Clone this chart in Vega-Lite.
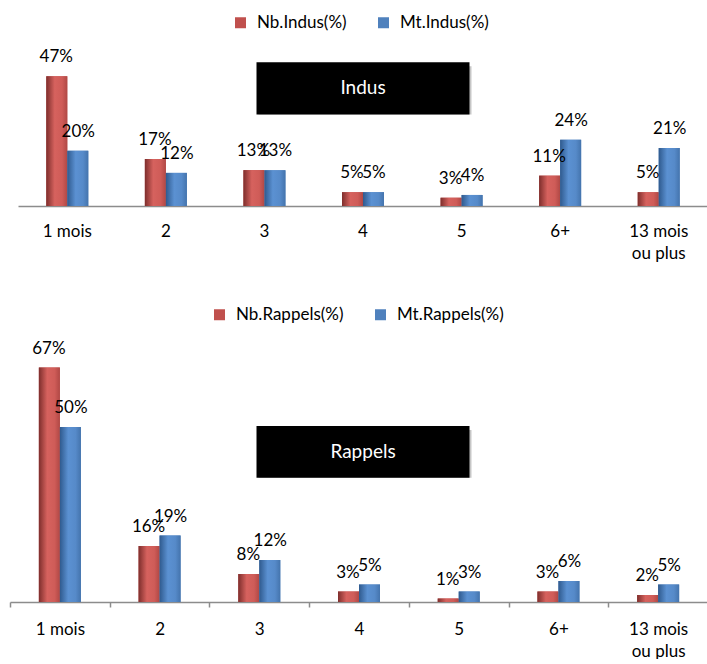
{
  "$schema": "https://vega.github.io/schema/vega-lite/v6.json",
  "padding": {"left": 9, "top": 14, "right": 0, "bottom": 0},
  "background": "white",
  "config": {
    "view": {"stroke": null},
    "font": "Lato",
    "axis": {"labelFont": "Lato"},
    "legend": {"labelFont": "Lato"},
    "text": {"font": "Lato"}
  },
  "resolve": {"scale": {"color": "independent"}, "legend": {"color": "independent"}},
  "spacing": 45,
  "datasets": {
    "indus": [
      {"mois": "1 mois", "serie": "Nb.Indus(%)", "v": 0.47},
      {"mois": "1 mois", "serie": "Mt.Indus(%)", "v": 0.20},
      {"mois": "2", "serie": "Nb.Indus(%)", "v": 0.17},
      {"mois": "2", "serie": "Mt.Indus(%)", "v": 0.12},
      {"mois": "3", "serie": "Nb.Indus(%)", "v": 0.13},
      {"mois": "3", "serie": "Mt.Indus(%)", "v": 0.13},
      {"mois": "4", "serie": "Nb.Indus(%)", "v": 0.05},
      {"mois": "4", "serie": "Mt.Indus(%)", "v": 0.05},
      {"mois": "5", "serie": "Nb.Indus(%)", "v": 0.03},
      {"mois": "5", "serie": "Mt.Indus(%)", "v": 0.04},
      {"mois": "6+", "serie": "Nb.Indus(%)", "v": 0.11},
      {"mois": "6+", "serie": "Mt.Indus(%)", "v": 0.24},
      {"mois": "13 mois ou plus", "serie": "Nb.Indus(%)", "v": 0.05},
      {"mois": "13 mois ou plus", "serie": "Mt.Indus(%)", "v": 0.21}
    ],
    "rappels": [
      {"mois": "1 mois", "serie": "Nb.Rappels(%)", "v": 0.67},
      {"mois": "1 mois", "serie": "Mt.Rappels(%)", "v": 0.50},
      {"mois": "2", "serie": "Nb.Rappels(%)", "v": 0.16},
      {"mois": "2", "serie": "Mt.Rappels(%)", "v": 0.19},
      {"mois": "3", "serie": "Nb.Rappels(%)", "v": 0.08},
      {"mois": "3", "serie": "Mt.Rappels(%)", "v": 0.12},
      {"mois": "4", "serie": "Nb.Rappels(%)", "v": 0.03},
      {"mois": "4", "serie": "Mt.Rappels(%)", "v": 0.05},
      {"mois": "5", "serie": "Nb.Rappels(%)", "v": 0.01},
      {"mois": "5", "serie": "Mt.Rappels(%)", "v": 0.03},
      {"mois": "6+", "serie": "Nb.Rappels(%)", "v": 0.03},
      {"mois": "6+", "serie": "Mt.Rappels(%)", "v": 0.06},
      {"mois": "13 mois ou plus", "serie": "Nb.Rappels(%)", "v": 0.02},
      {"mois": "13 mois ou plus", "serie": "Mt.Rappels(%)", "v": 0.05}
    ],
    "titre_indus": [{"titre": "Indus", "mois": "4", "haut": 0.521, "bas": 0.332, "milieu": 0.4265}],
    "titre_rappels": [{"titre": "Rappels", "mois": "4", "haut": 0.503, "bas": 0.355, "milieu": 0.429}]
  },
  "vconcat": [
    {
      "width": 698,
      "height": 149,
      "layer": [
        {
          "data": {"name": "indus"},
          "transform": [{"filter": "datum.serie == 'Nb.Indus(%)'"}],
          "mark": {"type": "bar", "width": 21, "xOffset": -10.5},
          "encoding": {
            "x": {
              "field": "mois", "type": "nominal",
              "scale": {"domain": ["1 mois", "2", "3", "4", "5", "6+", "13 mois ou plus"], "range": [8, 698], "paddingInner": 0, "paddingOuter": 0},
              "axis": {
                "title": null, "labelAngle": 0, "labelFontSize": 17, "labelColor": "#000",
                "domainColor": "#8c8c8c", "domainWidth": 1.5, "ticks": false, "labelPadding": 17,
                "labelBaseline": "top", "labelLineHeight": 22,
                "labelExpr": "datum.value == '13 mois ou plus' ? ['13 mois', 'ou plus'] : datum.value"
              }
            },
            "y": {"field": "v", "type": "quantitative", "scale": {"domain": [0, 0.54], "nice": false, "zero": true}, "axis": null},
            "color": {
              "field": "serie", "type": "nominal",
              "scale": {"domain": ["Nb.Indus(%)", "Mt.Indus(%)"], "range": ["#C0504D", "#4F81BD"]},
              "legend": {
                "title": null, "orient": "none", "legendX": 222, "legendY": -43, "direction": "horizontal",
                "symbolType": "square", "symbolSize": 121, "symbolStrokeWidth": 0, "labelFontSize": 17,
                "labelOffset": 8, "columnPadding": 28, "labelColor": "#000"
              }
            }
          }
        },
        {
          "data": {"name": "indus"},
          "transform": [{"filter": "datum.serie == 'Mt.Indus(%)'"}],
          "mark": {"type": "bar", "width": 21, "xOffset": 10.5},
          "encoding": {
            "x": {"field": "mois", "type": "nominal"},
            "y": {"field": "v", "type": "quantitative"},
            "color": {"field": "serie", "type": "nominal"}
          }
        },
        {
          "data": {"name": "indus"},
          "transform": [{"filter": "datum.serie == 'Nb.Indus(%)'"}],
          "mark": {"type": "bar", "width": 21, "xOffset": -10.5, "fill": {"gradient": "linear", "x1": 0, "x2": 1, "y1": 0, "y2": 0, "stops": [{"offset": 0, "color": "#7e2e2c"}, {"offset": 0.4, "color": "#d6625e"}, {"offset": 0.75, "color": "#cf5c58"}, {"offset": 1, "color": "#b04845"}]}},
          "encoding": {
            "x": {"field": "mois", "type": "nominal"},
            "y": {"field": "v", "type": "quantitative"}
          }
        },
        {
          "data": {"name": "indus"},
          "transform": [{"filter": "datum.serie == 'Mt.Indus(%)'"}],
          "mark": {"type": "bar", "width": 21, "xOffset": 10.5, "fill": {"gradient": "linear", "x1": 0, "x2": 1, "y1": 0, "y2": 0, "stops": [{"offset": 0, "color": "#2f5a8e"}, {"offset": 0.4, "color": "#5b91d2"}, {"offset": 0.75, "color": "#568ac9"}, {"offset": 1, "color": "#4474ad"}]}},
          "encoding": {
            "x": {"field": "mois", "type": "nominal"},
            "y": {"field": "v", "type": "quantitative"}
          }
        },
        {
          "data": {"name": "indus"},
          "transform": [{"filter": "datum.serie == 'Nb.Indus(%)'"}],
          "mark": {"type": "text", "fontSize": 17, "baseline": "alphabetic", "align": "center", "dy": -14, "xOffset": -11, "color": "#000"},
          "encoding": {
            "x": {"field": "mois", "type": "nominal"},
            "y": {"field": "v", "type": "quantitative"},
            "text": {"field": "v", "type": "quantitative", "format": ".0%"}
          }
        },
        {
          "data": {"name": "indus"},
          "transform": [{"filter": "datum.serie == 'Mt.Indus(%)'"}],
          "mark": {"type": "text", "fontSize": 17, "baseline": "alphabetic", "align": "center", "dy": -14, "xOffset": 11, "color": "#000"},
          "encoding": {
            "x": {"field": "mois", "type": "nominal"},
            "y": {"field": "v", "type": "quantitative"},
            "text": {"field": "v", "type": "quantitative", "format": ".0%"}
          }
        },
        {
          "data": {"name": "titre_indus"},
          "mark": {"type": "bar", "width": 213, "color": "#808080", "opacity": 0.45, "xOffset": 2, "yOffset": 4},
          "encoding": {
            "x": {"field": "mois", "type": "nominal"},
            "y": {"field": "haut", "type": "quantitative"},
            "y2": {"field": "bas"}
          }
        },
        {
          "data": {"name": "titre_indus"},
          "mark": {"type": "bar", "width": 213, "color": "#000000"},
          "encoding": {
            "x": {"field": "mois", "type": "nominal"},
            "y": {"field": "haut", "type": "quantitative"},
            "y2": {"field": "bas"}
          }
        },
        {
          "data": {"name": "titre_indus"},
          "mark": {"type": "text", "color": "white", "fontSize": 19, "baseline": "middle", "align": "center"},
          "encoding": {
            "x": {"field": "mois", "type": "nominal"},
            "y": {"field": "milieu", "type": "quantitative"},
            "text": {"field": "titre"}
          }
        }
      ]
    },
    {
      "width": 698,
      "height": 252,
      "layer": [
        {
          "data": {"name": "rappels"},
          "transform": [{"filter": "datum.serie == 'Nb.Rappels(%)'"}],
          "mark": {"type": "bar", "width": 21, "xOffset": -10.5},
          "encoding": {
            "x": {
              "field": "mois", "type": "nominal",
              "scale": {"domain": ["1 mois", "2", "3", "4", "5", "6+", "13 mois ou plus"], "paddingInner": 0, "paddingOuter": 0},
              "axis": {
                "title": null, "labelAngle": 0, "labelFontSize": 17, "labelColor": "#000",
                "domainColor": "#8c8c8c", "domainWidth": 1.5, "ticks": true, "tickBand": "extent",
                "tickColor": "#8c8c8c", "tickWidth": 1.5, "tickSize": 5, "labelPadding": 14,
                "labelBaseline": "top", "labelLineHeight": 22,
                "labelExpr": "datum.value == '13 mois ou plus' ? ['13 mois', 'ou plus'] : datum.value"
              }
            },
            "y": {"field": "v", "type": "quantitative", "scale": {"domain": [0, 0.72], "nice": false, "zero": true}, "axis": null},
            "color": {
              "field": "serie", "type": "nominal",
              "scale": {"domain": ["Nb.Rappels(%)", "Mt.Rappels(%)"], "range": ["#C0504D", "#4F81BD"]},
              "legend": {
                "title": null, "orient": "none", "legendX": 201, "legendY": -44, "direction": "horizontal",
                "symbolType": "square", "symbolSize": 121, "symbolStrokeWidth": 0, "labelFontSize": 17,
                "labelOffset": 8, "columnPadding": 28, "labelColor": "#000"
              }
            }
          }
        },
        {
          "data": {"name": "rappels"},
          "transform": [{"filter": "datum.serie == 'Mt.Rappels(%)'"}],
          "mark": {"type": "bar", "width": 21, "xOffset": 10.5},
          "encoding": {
            "x": {"field": "mois", "type": "nominal"},
            "y": {"field": "v", "type": "quantitative"},
            "color": {"field": "serie", "type": "nominal"}
          }
        },
        {
          "data": {"name": "rappels"},
          "transform": [{"filter": "datum.serie == 'Nb.Rappels(%)'"}],
          "mark": {"type": "bar", "width": 21, "xOffset": -10.5, "fill": {"gradient": "linear", "x1": 0, "x2": 1, "y1": 0, "y2": 0, "stops": [{"offset": 0, "color": "#7e2e2c"}, {"offset": 0.4, "color": "#d6625e"}, {"offset": 0.75, "color": "#cf5c58"}, {"offset": 1, "color": "#b04845"}]}},
          "encoding": {
            "x": {"field": "mois", "type": "nominal"},
            "y": {"field": "v", "type": "quantitative"}
          }
        },
        {
          "data": {"name": "rappels"},
          "transform": [{"filter": "datum.serie == 'Mt.Rappels(%)'"}],
          "mark": {"type": "bar", "width": 21, "xOffset": 10.5, "fill": {"gradient": "linear", "x1": 0, "x2": 1, "y1": 0, "y2": 0, "stops": [{"offset": 0, "color": "#2f5a8e"}, {"offset": 0.4, "color": "#5b91d2"}, {"offset": 0.75, "color": "#568ac9"}, {"offset": 1, "color": "#4474ad"}]}},
          "encoding": {
            "x": {"field": "mois", "type": "nominal"},
            "y": {"field": "v", "type": "quantitative"}
          }
        },
        {
          "data": {"name": "rappels"},
          "transform": [{"filter": "datum.serie == 'Nb.Rappels(%)'"}],
          "mark": {"type": "text", "fontSize": 17, "baseline": "alphabetic", "align": "center", "dy": -14, "xOffset": -11, "color": "#000"},
          "encoding": {
            "x": {"field": "mois", "type": "nominal"},
            "y": {"field": "v", "type": "quantitative"},
            "text": {"field": "v", "type": "quantitative", "format": ".0%"}
          }
        },
        {
          "data": {"name": "rappels"},
          "transform": [{"filter": "datum.serie == 'Mt.Rappels(%)'"}],
          "mark": {"type": "text", "fontSize": 17, "baseline": "alphabetic", "align": "center", "dy": -14, "xOffset": 11, "color": "#000"},
          "encoding": {
            "x": {"field": "mois", "type": "nominal"},
            "y": {"field": "v", "type": "quantitative"},
            "text": {"field": "v", "type": "quantitative", "format": ".0%"}
          }
        },
        {
          "data": {"name": "titre_rappels"},
          "mark": {"type": "bar", "width": 213, "color": "#808080", "opacity": 0.45, "xOffset": 6, "yOffset": 4},
          "encoding": {
            "x": {"field": "mois", "type": "nominal"},
            "y": {"field": "haut", "type": "quantitative"},
            "y2": {"field": "bas"}
          }
        },
        {
          "data": {"name": "titre_rappels"},
          "mark": {"type": "bar", "width": 213, "color": "#000000", "xOffset": 4},
          "encoding": {
            "x": {"field": "mois", "type": "nominal"},
            "y": {"field": "haut", "type": "quantitative"},
            "y2": {"field": "bas"}
          }
        },
        {
          "data": {"name": "titre_rappels"},
          "mark": {"type": "text", "color": "white", "fontSize": 19, "baseline": "middle", "align": "center", "xOffset": 4},
          "encoding": {
            "x": {"field": "mois", "type": "nominal"},
            "y": {"field": "milieu", "type": "quantitative"},
            "text": {"field": "titre"}
          }
        }
      ]
    }
  ]
}
